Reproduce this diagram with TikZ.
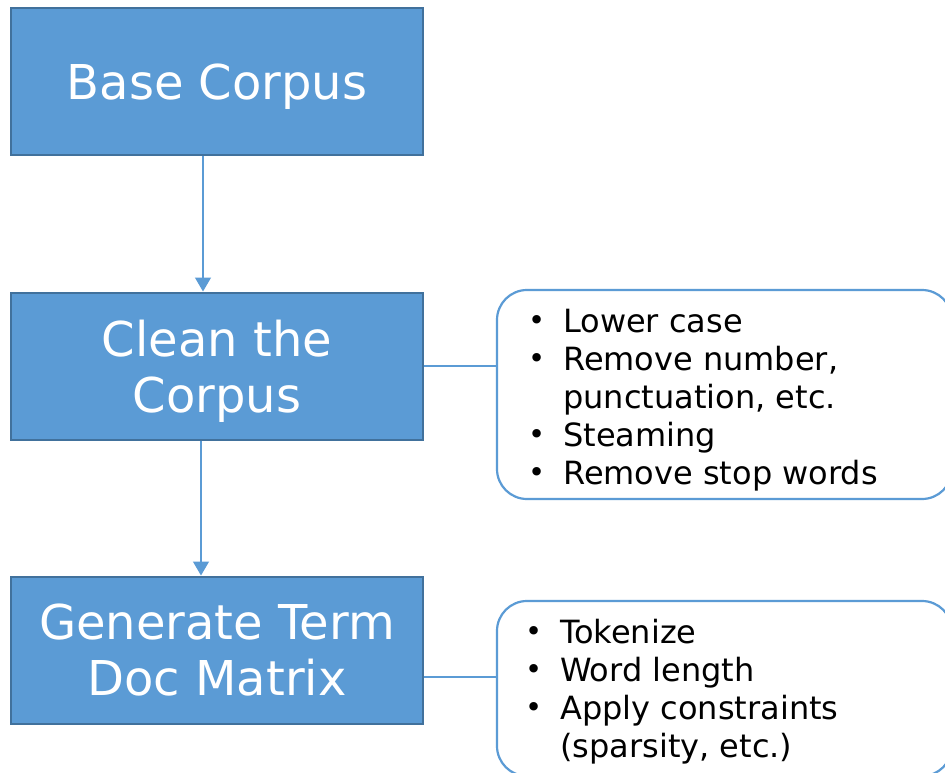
\documentclass[tikz,border=0pt]{standalone}
\usepackage{fontspec}
\setmainfont{DejaVu Sans}
\usetikzlibrary{arrows.meta}
\definecolor{stepfill}{HTML}{5B9BD5}
\definecolor{stepedge}{HTML}{41719C}
\definecolor{noteedge}{HTML}{5B9BD5}
\newcommand{\bitem}{\makebox[36pt][l]{\hspace*{1pt}\raisebox{1.5pt}{\fontsize{29}{29}\selectfont\textbullet}}}
\newcommand{\bcont}{\hspace*{36pt}}
\tikzset{
  stepbox/.style={draw=stepedge, line width=2pt, fill=stepfill, text=white,
    minimum width=412pt, minimum height=147pt, inner sep=0pt, align=center,
    text depth=0pt, font=\fontsize{48}{56}\selectfont},
  notebox/.style={draw=noteedge, line width=2.2pt, rounded corners=30pt,
    minimum width=455pt, inner sep=0pt},
  notetext/.style={anchor=base west, align=left, inner sep=0pt,
    font=\fontsize{32}{38}\selectfont},
  flow/.style={draw=noteedge, line width=1.2pt, -{Triangle[length=14pt,width=16pt]}},
  tie/.style={draw=noteedge, line width=1.2pt}
}
\begin{document}
\begin{tikzpicture}[x=1pt,y=-1pt]
  \useasboundingbox (0,0) rectangle (945,773);
  \clip (0,0) rectangle (945,773);
  \fill[white] (0,0) rectangle (945,773);

  % process steps
  \node[stepbox] (base)  at (217,81.5)  {Base Corpus};
  \node[stepbox] (clean) at (217,366)   {Clean the\\Corpus};
  \node[stepbox] (gen)   at (217,650)   {Generate Term\\Doc Matrix};

  % side notes
  \node[notebox, minimum height=209pt] (cleannote) at (724.5,394.5) {};
  \node[notebox, minimum height=175pt] (gennote)   at (724.5,688.5) {};

  % the base anchor of a multi-line node sits on its last line
  \node[notetext] (cn) at (527,484) {\bitem Lower case\\
    \bitem Remove number,\\
    \bcont punctuation, etc.\\
    \bitem Steaming\\
    \bitem Remove stop words};
  \node[notetext] (gn) at (524,757) {\bitem Tokenize\\
    \bitem Word length\\
    \bitem Apply constraints\\
    \bcont (sparsity, etc.)};

  % connectors
  \draw[flow] ([xshift=-14pt]base.south) -- ([xshift=-14pt]clean.north);
  \draw[flow] ([xshift=-16pt]clean.south) -- ([xshift=-16pt]gen.north);
  \draw[tie] (clean.east) -- (clean.east -| cleannote.west);
  \draw[tie] ([yshift=-27pt]gen.east) -- ([yshift=-27pt]gen.east -| gennote.west);
\end{tikzpicture}
\end{document}
